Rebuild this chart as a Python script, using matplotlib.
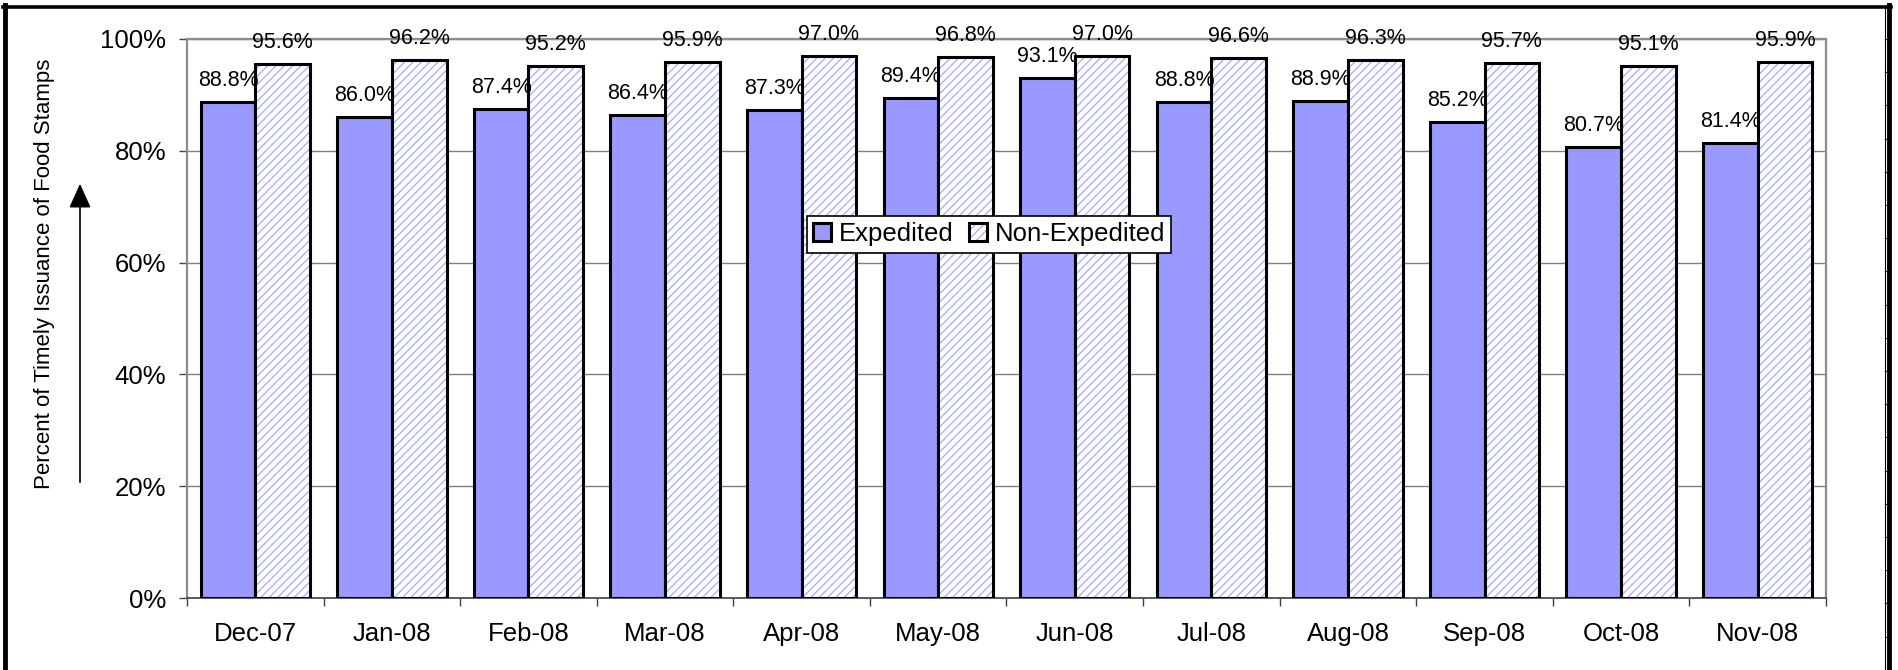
import numpy as np
import matplotlib
matplotlib.use("Agg")
import matplotlib.pyplot as plt
from matplotlib.lines import Line2D
from matplotlib.patches import FancyArrowPatch
from matplotlib.legend_handler import HandlerTuple
from matplotlib.ticker import FixedLocator

months = ["Dec-07", "Jan-08", "Feb-08", "Mar-08", "Apr-08", "May-08",
          "Jun-08", "Jul-08", "Aug-08", "Sep-08", "Oct-08", "Nov-08"]
expedited = [88.8, 86.0, 87.4, 86.4, 87.3, 89.4, 93.1, 88.8, 88.9, 85.2, 80.7, 81.4]
non_expedited = [95.6, 96.2, 95.2, 95.9, 97.0, 96.8, 97.0, 96.6, 96.3, 95.7, 95.1, 95.9]
yticks = [0, 20, 40, 60, 80, 100]

plt.rcParams.update({"font.family": ["Liberation Sans", "DejaVu Sans"],
                     "hatch.linewidth": 0.9})

W, H = 1898, 670
fig = plt.figure(figsize=(W / 100, H / 100), dpi=100)
ax = fig.add_axes([187 / W, 1 - 598 / H, (1826 - 187) / W, (598 - 39) / H])

x = np.arange(len(months))
bw = 0.4
ax.bar(x - bw / 2, expedited, bw, color="#9999FF", edgecolor="black", lw=2.2, zorder=3)
# hatch first (edge colour drives hatch colour), then a black outline on top
hatched = ax.bar(x + bw / 2, non_expedited, bw, color="white", edgecolor="#A8A8FF",
                 hatch="////", lw=0, zorder=3)
outline = ax.bar(x + bw / 2, non_expedited, bw, color="none", edgecolor="black", lw=2.2, zorder=4)

for xi, v in zip(x - bw / 2, expedited):
    ax.annotate(f"{v:.1f}%", (xi, v), xytext=(0, 11.5), textcoords="offset points",
                ha="center", va="baseline", fontsize=15.5)
for xi, v in zip(x + bw / 2, non_expedited):
    ax.annotate(f"{v:.1f}%", (xi, v), xytext=(0, 11.5), textcoords="offset points",
                ha="center", va="baseline", fontsize=15.5)

ax.set_xlim(-0.5, len(months) - 0.5)
ax.set_ylim(0, 100)
ax.set_yticks(yticks, [f"{t}%" for t in yticks])
ax.set_xticks(x, months)
ax.xaxis.set_minor_locator(FixedLocator(np.arange(-0.5, len(months), 1.0)))
ax.tick_params(axis="x", which="major", length=0, pad=17, labelsize=18.5)
ax.tick_params(axis="x", which="minor", length=6, width=1, color="#404040", direction="out")
ax.tick_params(axis="y", length=6, width=1, color="#404040", pad=9, labelsize=18.5)

ax.grid(axis="y", color="#808080", lw=1, zorder=0)
for s in ["top", "right", "left"]:
    ax.spines[s].set_color("#8c8c8c")
    ax.spines[s].set_linewidth(1.6)
ax.spines["bottom"].set_color("#404040")
ax.spines["bottom"].set_linewidth(1.2)

leg = ax.legend([ax.containers[0][0], (hatched[0], outline[0])], ["Expedited", "Non-Expedited"],
                handler_map={tuple: HandlerTuple(ndivide=1, pad=0)},
                loc="center", bbox_to_anchor=(0.4893, 0.651), ncol=2, fontsize=18.5,
                frameon=True, fancybox=False, edgecolor="black", framealpha=1,
                handlelength=0.7, handleheight=0.7, handletextpad=0.3, columnspacing=0.6,
                borderpad=0.25, borderaxespad=0)
leg.get_frame().set_linewidth(1.2)
leg.set_zorder(6)

fig.text(45 / W, 1 - 274 / H, "Percent of Timely Issuance of Food Stamps",
         rotation=90, ha="center", va="center", fontsize=16)
fig.add_artist(FancyArrowPatch(
    (80 / W, 1 - 485 / H), (80 / W, 1 - 181 / H), transform=fig.transFigure,
    arrowstyle="-|>,head_length=1.0,head_width=0.45", mutation_scale=15,
    color="black", lw=1.2))

# page frame with ruler on the right
fig.add_artist(Line2D([5 / W, 5 / W], [0, 1 - 5 / H], transform=fig.transFigure, color="black", lw=3.5))
fig.add_artist(Line2D([3 / W, 1891 / W], [1 - 6.5 / H, 1 - 6.5 / H], transform=fig.transFigure, color="black", lw=2.6))
fig.add_artist(Line2D([1889 / W, 1889 / W], [0, 1 - 5 / H], transform=fig.transFigure, color="black", lw=3.5))
fig.add_artist(Line2D([1884.5 / W, 1884.5 / W], [0, 1 - 7 / H], transform=fig.transFigure, color="black", lw=0.8))
for ty in np.arange(39, H, 33.2):
    fig.add_artist(Line2D([1884.5 / W, 1888 / W], [1 - ty / H, 1 - ty / H],
                          transform=fig.transFigure, color="black", lw=0.8))

fig.savefig("out.png", dpi=100, facecolor="white")
